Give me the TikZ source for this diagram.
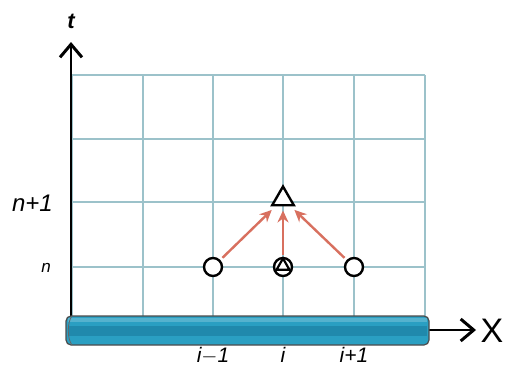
\documentclass[tikz,border=0pt]{standalone}
\usepackage{fontspec}
\setmainfont{Liberation Sans}
\usetikzlibrary{arrows.meta,shapes.geometric}
\definecolor{gridc}{HTML}{9CC2CA}
\definecolor{cylc}{HTML}{2A9FC2}
\definecolor{cyld}{HTML}{2089AC}
\definecolor{arrc}{HTML}{D8705F}
\tikzset{
  gridline/.style={draw=gridc, line width=1.5pt},
  axisarrow/.style={draw=black, line width=2pt, -{Straight Barb[length=13pt,width=22pt,line width=3pt]}},
  pt/.style={circle, draw=black, line width=2.4pt, fill=white, minimum size=18pt, inner sep=0pt},
  tri/.style={regular polygon, regular polygon sides=3, draw=black, line width=2.4pt, fill=white, minimum size=25pt, inner sep=0pt},
  smalltri/.style={regular polygon, regular polygon sides=3, draw=black, line width=2.2pt, fill=white, minimum size=15pt, inner sep=0pt},
  redarrow/.style={draw=arrc, line width=2.4pt, -{Stealth[length=12pt,width=11pt]}},
  lbl/.style={font=\fontsize{24}{26}\selectfont\itshape, inner sep=0pt},
  xlbl/.style={font=\fontsize{21}{23}\selectfont\itshape, inner sep=0pt, anchor=north}
}
\begin{document}
\begin{tikzpicture}[x=1pt,y=-1pt]
\useasboundingbox (0,0) rectangle (505,367);
\fill[white] (0,0) rectangle (505,367);
% grid
\foreach \x in {72,143,213,283,354,425} \draw[gridline] (\x,75) -- (\x,316);
\foreach \y in {75,139,202,267} \draw[gridline] (72,\y) -- (425,\y);
% axes
\coordinate (torig) at (71,316);
\coordinate (ttip) at (71,42);
\draw[axisarrow] (torig) -- (ttip);
\node[font=\fontsize{22}{24}\selectfont\itshape\bfseries, inner sep=0pt] (tl) at (71,21) {t};
\coordinate (xorig) at (425,330);
\coordinate (xtip) at (476,330);
\draw[axisarrow] (xorig) -- (xtip);
\node[font=\fontsize{34}{36}\selectfont, inner sep=0pt] (xl) at (492,331) {X};
% cylinder
\draw[black!70, line width=1.2pt, fill=cylc, rounded corners=5pt] (66,316) rectangle (429,345);
\fill[cyld] (68,326) rectangle (427,336);
\fill[cylc!80!white] (68,318) rectangle (427,322);
\draw[black!60, line width=0.8pt] (72,316) .. controls (67,322) and (67,339) .. (72,345);
% labels
\node[lbl, anchor=east] (n1) at (53,203) {n+1};
\node[font=\fontsize{17}{19}\selectfont\itshape, inner sep=0pt] (nl) at (46,268) {n};
\node[xlbl] (im) at (213,347) {i$-$1};
\node[xlbl] (ic) at (283,347) {i};
\node[xlbl] (ip) at (354,347) {i+1};
% points
\node[pt] (pl) at (213,267) {};
\node[pt] (pr) at (354,267) {};
\node[pt] (pc) at (283,267) {};
\node[smalltri] (pct) at (283,266) {};
\node[tri] (top) at (283,199) {};
% red arrows
\draw[redarrow, shorten <=3pt, shorten >=5pt] (pl) -- (top);
\draw[redarrow, shorten <=1pt, shorten >=4pt] (pct) -- (top);
\draw[redarrow, shorten <=3pt, shorten >=5pt] (pr) -- (top);
\end{tikzpicture}
\end{document}
